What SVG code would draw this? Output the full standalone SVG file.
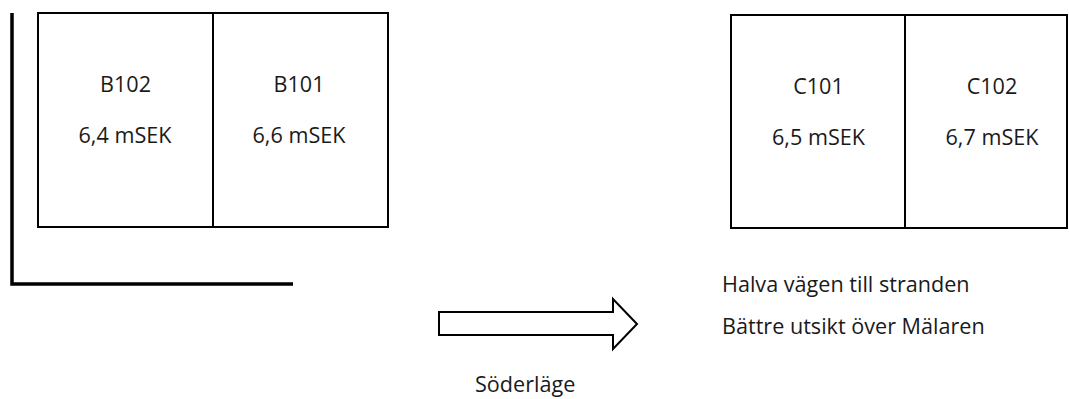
<svg xmlns="http://www.w3.org/2000/svg" width="1069" height="399" viewBox="0 0 1069 399">
<style>
.box{fill:#fff;stroke:#000;stroke-width:2}
.t{font-family:"Open Sans","Noto Sans","Liberation Sans",sans-serif;font-size:21.6px;fill:#1a1a1a}
.c{text-anchor:middle}
</style>
<rect width="1069" height="399" fill="#fff"/>
<g id="wall">
<polyline points="12,13 12,284 293,284" fill="none" stroke="#000" stroke-width="3.5"/>
</g>
<g id="B102">
<rect class="box" x="38" y="13" width="175" height="214"/>
<text class="t c" x="125.5" y="92">B102</text>
<text class="t c" x="125" y="143">6,4 mSEK</text>
</g>
<g id="B101">
<rect class="box" x="213" y="13" width="175" height="214"/>
<text class="t c" x="299" y="92">B101</text>
<text class="t c" x="299" y="143">6,6 mSEK</text>
</g>
<g id="C101">
<rect class="box" x="731" y="15" width="174" height="213"/>
<text class="t c" x="818.5" y="94">C101</text>
<text class="t c" x="818.5" y="145">6,5 mSEK</text>
</g>
<g id="C102">
<rect class="box" x="905" y="15" width="162" height="213"/>
<text class="t c" x="992" y="94">C102</text>
<text class="t c" x="992" y="145">6,7 mSEK</text>
</g>
<g id="connectors">
<polygon points="439,312 613,312 613,299 637,324 613,349 613,335 439,335" fill="#fff" stroke="#000" stroke-width="2"/>
</g>
<g id="labels">
<text class="t" x="722" y="292">Halva vägen till stranden</text>
<text class="t" x="722" y="334">Bättre utsikt över Mälaren</text>
<text class="t" x="475" y="392">Söderläge</text>
</g>
</svg>
